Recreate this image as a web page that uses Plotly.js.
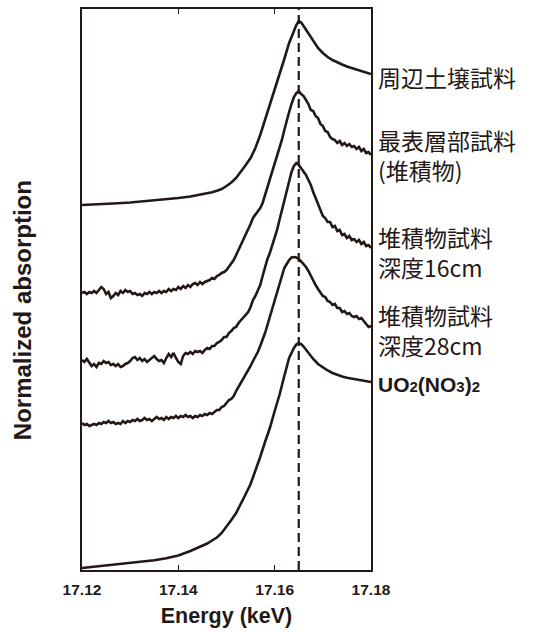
<!DOCTYPE html>
<html><head><meta charset="utf-8">
<script src="https://cdn.plot.ly/plotly-3.0.1.min.js"></script>
<style>html,body{margin:0;padding:0;background:#fff;}#chart{width:534px;height:633px;}</style>
</head><body><div id="chart"></div>
<script>
// Energy grids (keV)
const energyFine = [17.12,17.1205,17.121,17.1215,17.122,17.1225,17.123,17.1235,17.124,17.1245,
17.125,17.1255,17.126,17.1265,17.127,17.1275,17.128,17.1285,17.129,17.1295,
17.13,17.1305,17.131,17.1315,17.132,17.1325,17.133,17.1335,17.134,17.1345,
17.135,17.1355,17.136,17.1365,17.137,17.1375,17.138,17.1385,17.139,17.1395,
17.14,17.1405,17.141,17.1415,17.142,17.1425,17.143,17.1435,17.144,17.1445,
17.145,17.1455,17.146,17.1465,17.147,17.1475,17.148,17.1485,17.149,17.1495,
17.15,17.1505,17.151,17.1515,17.152,17.1525,17.153,17.1535,17.154,17.1545,
17.155,17.1555,17.156,17.1565,17.157,17.1575,17.158,17.1585,17.159,17.1595,
17.16,17.1605,17.161,17.1615,17.162,17.1625,17.163,17.1635,17.164,17.1645,
17.165,17.1655,17.166,17.1665,17.167,17.1675,17.168,17.1685,17.169,17.1695,
17.17,17.1705,17.171,17.1715,17.172,17.1725,17.173,17.1735,17.174,17.1745,
17.175,17.1755,17.176,17.1765,17.177,17.1775,17.178,17.1785,17.179,17.1795,17.18];

const energyCoarse = [17.12,17.1225,17.125,17.1275,17.13,17.1325,17.135,17.1375,17.14,17.1425,
17.145,17.146,17.147,17.148,17.149,17.15,17.151,17.152,17.153,17.154,
17.155,17.156,17.157,17.158,17.159,17.16,17.161,17.162,17.163,17.164,
17.1645,17.165,17.1655,17.166,17.167,17.168,17.169,17.17,17.171,17.172,
17.173,17.174,17.175,17.176,17.177,17.178,17.179,17.18];

// Offset normalized absorption (arbitrary units, stacked)
const soilSurrounding = [365,365.4,366,366.7,367.5,368.5,369.5,370.5,372,373.5,
375.5,376.5,377.7,379.2,381,384,387.5,392,398,405,
412,422,435,450,464,479,495,511,527,540,
545,549,547.5,544,537,529,522,517,513,510,
507.5,505.5,503.5,502,500.5,499,497.5,496];

const surfaceSediment = [277,278,276,278,277,279,277,280,283,281,
276,278,272,274,277,275,279,277,280,278,
279,276,277,275,276,274,277,276,278,276,
278,277,279,277,279,278,281,279,281,280,
283,281,284,282,285,283,286,287,285,288,
286,288,289,290,292,291,294,295,297,298,
300,303,306,310,315,320,325,330,336,340,
346,352,355,358,362,367,375,382,389,397,
405,413,422,430,440,450,458,466,473,477,
479,476,474,470,466,460,459,454,452,446,
444,439,438,433,431,430,427,429,425,427,
424,426,423,424,421,423,419,421,417,418,415];

const sediment16cm = [210,208,211,207,204,206,203,207,206,209,
207,208,205,206,204,206,203,204,206,207,
209,212,213,210,212,209,211,208,210,212,
214,211,209,210,207,212,216,213,217,212,
208,206,214,217,216,218,216,219,218,219,
217,220,222,221,224,224,227,228,230,233,
233,237,239,242,243,247,250,252,255,258,
263,270,274,279,285,294,303,311,317,324,
332,340,350,360,370,380,389,398,404,407,
405,402,398,395,390,385,378,372,365,360,
354,352,348,348,343,344,339,340,335,336,
332,334,330,331,328,330,326,328,324,325,322];

const sediment28cm = [147,145,146,144,145,146,145,147,146,148,
147,149,147,148,146,147,146,149,147,149,
148,150,149,151,149,150,152,150,151,149,
151,153,151,152,150,153,151,153,152,154,
152,154,153,155,153,154,152,154,153,155,
154,156,155,157,156,158,160,160,163,164,
167,170,171,174,179,183,187,191,195,199,
204,209,213,218,224,230,237,245,253,261,
270,278,286,295,302,306,310,312.5,313,312.5,
311,308.5,306,303,299,294,290,285,281,278,
274,273,269,268,265,266,262,262,258,259,
256,257,254,253,254,251,252,249,246,243,244];

const uranylNitrate = [2,3.3,4.5,5.8,7,8,9.7,11.8,14.5,19,
24,26.5,29.5,32.5,37,43,50,57,66,76,
86,99,113,128,142,159,175,194,212,222,
225.5,227,226,223.5,217,211,206,202.5,199.5,197,
195,193.5,192.3,191.3,190.4,189.5,188.7,188];

const xTicks = [17.12, 17.14, 17.16, 17.18];
const xTickText = ['17.12', '17.14', '17.16', '17.18'];
const peakEnergy = 17.165;

// Labels next to each spectrum and their vertical positions (data units)
const labelTexts = ['周辺土壌試料', '最表層部試料<br>(堆積物)', '堆積物試料<br>深度16cm', '堆積物試料<br>深度28cm',
  'UO<span style="font-size:15px">2</span>(NO<span style="font-size:15px">3</span>)<span style="font-size:15px">2</span>'];
const labelY = [493, 415, 318.5, 240, 186];

const INK = '#231815';
const lineStyle = {color: INK, width: 2.6};

const traces = [
  {x: energyCoarse, y: soilSurrounding, mode: 'lines', line: lineStyle, hoverinfo: 'skip'},
  {x: energyFine, y: surfaceSediment, mode: 'lines', line: lineStyle, hoverinfo: 'skip'},
  {x: energyFine, y: sediment16cm, mode: 'lines', line: lineStyle, hoverinfo: 'skip'},
  {x: energyFine, y: sediment28cm, mode: 'lines', line: lineStyle, hoverinfo: 'skip'},
  {x: energyCoarse, y: uranylNitrate, mode: 'lines', line: lineStyle, hoverinfo: 'skip'}
];

const annotations = labelTexts.map((t, i) => ({
  text: t, xref: 'paper', x: 1, xanchor: 'left', xshift: 5, align: 'left',
  yref: 'y', y: labelY[i], yanchor: 'middle', showarrow: false,
  font: i === labelTexts.length - 1
    ? {family: 'Liberation Sans, Arial, sans-serif', size: 21, color: INK, weight: 'bold'}
    : {family: 'Noto Sans CJK JP, sans-serif', size: 23, color: INK}
}));
annotations.push({
  text: 'Normalized absorption', textangle: -90, showarrow: false,
  xref: 'paper', x: -0.208, xanchor: 'center', yref: 'paper', y: 0.463, yanchor: 'middle',
  font: {family: 'Liberation Sans, Arial, sans-serif', size: 24, color: INK, weight: 'bold'}
});

const layout = {
  width: 534, height: 633,
  margin: {l: 82, r: 163, t: 9, b: 63},
  paper_bgcolor: '#fff', plot_bgcolor: '#fff',
  showlegend: false,
  xaxis: {
    range: [17.12, 17.18], tickvals: xTicks, ticktext: xTickText,
    ticks: 'inside', ticklen: 5, tickwidth: 1.5, tickcolor: INK,
    ticklabelstandoff: 4,
    showline: true, linecolor: INK, linewidth: 2, mirror: 'ticks',
    showgrid: false, zeroline: false,
    tickfont: {family: 'Liberation Sans, Arial, sans-serif', size: 15.5, color: INK, weight: 'bold'},
    title: {text: 'Energy (keV)', standoff: 11,
      font: {family: 'Liberation Sans, Arial, sans-serif', size: 21.5, color: INK, weight: 'bold'}}
  },
  yaxis: {
    range: [0, 561], showticklabels: false, ticks: '',
    showline: true, linecolor: INK, linewidth: 2, mirror: true,
    showgrid: false, zeroline: false
  },
  shapes: [{type: 'line', xref: 'x', x0: peakEnergy, x1: peakEnergy, yref: 'paper', y0: 0, y1: 1,
    line: {color: INK, width: 2.2, dash: '9px,5px'}}],
  annotations: annotations
};

Plotly.newPlot('chart', traces, layout, {displayModeBar: false, staticPlot: true});
</script>
</body></html>
